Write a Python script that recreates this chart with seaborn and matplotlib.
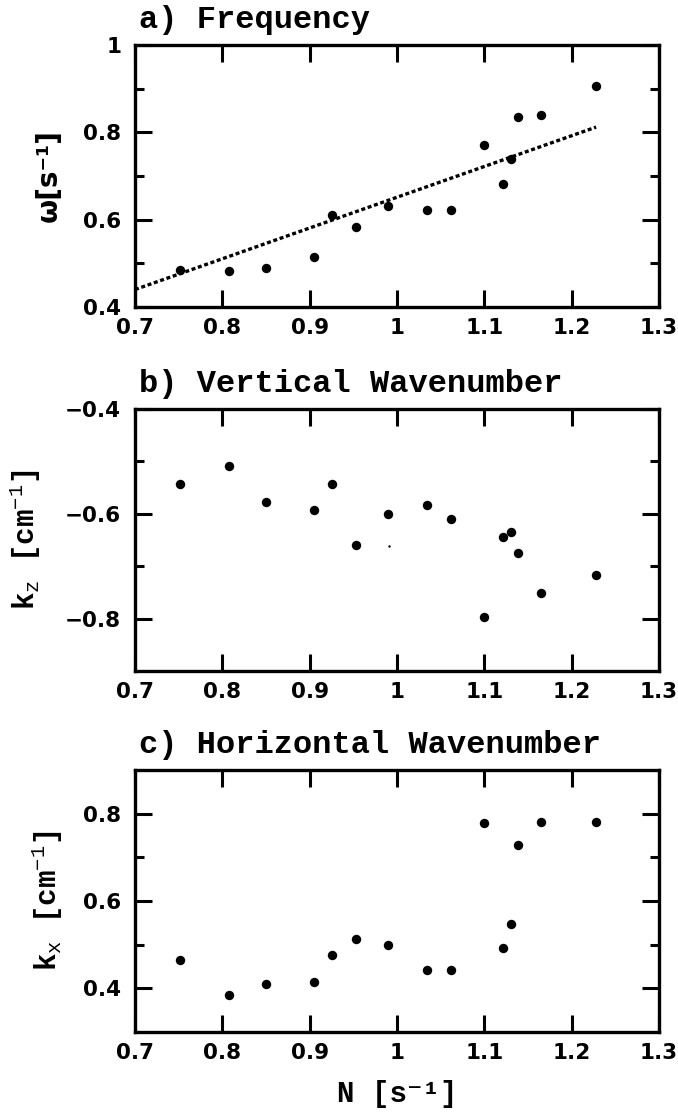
import matplotlib
matplotlib.use("Agg")
import matplotlib.pyplot as plt
import seaborn as sns
import pandas as pd
from matplotlib.ticker import FixedLocator

# Buoyancy frequency N [s^-1] shared by all three panels
n_freq = [0.751, 0.808, 0.850, 0.905, 0.926, 0.953, 0.990, 1.034, 1.062,
          1.100, 1.121, 1.130, 1.139, 1.165, 1.228]

# a) wave frequency omega [s^-1]
omega = [0.485, 0.482, 0.489, 0.515, 0.610, 0.584, 0.632, 0.623, 0.623,
         0.771, 0.681, 0.739, 0.835, 0.840, 0.905]
# fitted line through the frequency data
fit_n = [0.70, 1.228]
fit_omega = [0.440, 0.812]

# b) vertical wavenumber k_z [cm^-1]
k_z = [-0.543, -0.509, -0.577, -0.593, -0.543, -0.660, -0.600, -0.584, -0.609,
       -0.796, -0.644, -0.635, -0.675, -0.751, -0.717]
# stray speck in panel b
speck_n = [0.991]
speck_kz = [-0.661]

# c) horizontal wavenumber k_x [cm^-1]
k_x = [0.465, 0.384, 0.410, 0.415, 0.476, 0.513, 0.500, 0.442, 0.442,
       0.779, 0.492, 0.548, 0.728, 0.780, 0.780]

x_ticks = [0.7, 0.8, 0.9, 1.0, 1.1, 1.2, 1.3]
x_ticklabels = ["0.7", "0.8", "0.9", "1", "1.1", "1.2", "1.3"]

titles = ["a) Frequency", "b) Vertical Wavenumber", "c) Horizontal Wavenumber"]

sns.set_style("ticks")
plt.rcParams.update({
    "text.color": "black",
    "axes.labelcolor": "black",
    "xtick.color": "black",
    "ytick.color": "black",
    "axes.edgecolor": "black",
    "mathtext.fontset": "custom",
    "mathtext.rm": "Liberation Mono",
    "mathtext.it": "Liberation Mono",
    "mathtext.bf": "Liberation Mono:bold",
})

TITLE_FONT = dict(family=["Liberation Mono", "DejaVu Serif"], size=23, weight="bold")
LABEL_FONT = dict(family=["Liberation Mono", "DejaVu Serif"], size=21, weight="bold")
TICK_FONT = dict(family="DejaVu Sans", size=15.5, weight="bold")

fig = plt.figure(figsize=(6.78, 11.15), dpi=100)

W = 678.0
H = 1115.0
left, right = 135, 659
panels = [(45, 307), (409, 671), (770, 1032)]
axes = []
for top, bottom in panels:
    ax = fig.add_axes([left / W, 1 - bottom / H, (right - left) / W, (bottom - top) / H])
    axes.append(ax)

df = pd.DataFrame({"N": n_freq, "omega": omega, "kz": k_z, "kx": k_x})
fit_df = pd.DataFrame({"N": fit_n, "omega": fit_omega})
speck_df = pd.DataFrame({"N": speck_n, "kz": speck_kz})

point_kw = dict(color="black", s=46, edgecolor="black", linewidth=0, legend=False)

# a) frequency
sns.lineplot(data=fit_df, x="N", y="omega", ax=axes[0], color="black",
             linewidth=2.4, linestyle=(0, (1.2, 0.8)))
sns.scatterplot(data=df, x="N", y="omega", ax=axes[0], **point_kw)
axes[0].set_ylim(0.4, 1.0)
axes[0].yaxis.set_major_locator(FixedLocator([0.4, 0.6, 0.8, 1.0]))
axes[0].set_yticklabels(["0.4", "0.6", "0.8", "1"])
axes[0].yaxis.set_minor_locator(FixedLocator([0.5, 0.7, 0.9]))
axes[0].set_ylabel("ω[s⁻¹]", family="DejaVu Sans", size=20, weight="bold")

# b) vertical wavenumber
sns.scatterplot(data=df, x="N", y="kz", ax=axes[1], **point_kw)
sns.scatterplot(data=speck_df, x="N", y="kz", ax=axes[1], color="black", s=3,
                linewidth=0, legend=False)
axes[1].set_ylim(-0.9, -0.4)
axes[1].yaxis.set_major_locator(FixedLocator([-0.8, -0.6, -0.4]))
axes[1].set_yticklabels(["−0.8", "−0.6", "−0.4"])
axes[1].yaxis.set_minor_locator(FixedLocator([-0.7, -0.5]))
axes[1].set_ylabel(r"k$_\mathrm{z}$ [cm$^{-1}$]", **LABEL_FONT)

# c) horizontal wavenumber
sns.scatterplot(data=df, x="N", y="kx", ax=axes[2], **point_kw)
axes[2].set_ylim(0.3, 0.9)
axes[2].yaxis.set_major_locator(FixedLocator([0.4, 0.6, 0.8]))
axes[2].set_yticklabels(["0.4", "0.6", "0.8"])
axes[2].yaxis.set_minor_locator(FixedLocator([0.5, 0.7]))
axes[2].set_ylabel(r"k$_\mathrm{x}$ [cm$^{-1}$]", **LABEL_FONT)
axes[2].set_xlabel("N [s⁻¹]", labelpad=12, **LABEL_FONT)

ylabel_x = [-0.137, -0.176, -0.134]
for ax, title, lx in zip(axes, titles, ylabel_x):
    ax.set_xlim(0.7, 1.3)
    ax.set_xticks(x_ticks)
    ax.set_xticklabels(x_ticklabels)
    ax.set_title(title, loc="left", pad=12, x=0.008, color="black", **TITLE_FONT)
    for lab in ax.get_xticklabels() + ax.get_yticklabels():
        lab.set_fontfamily(TICK_FONT["family"])
        lab.set_fontsize(TICK_FONT["size"])
        lab.set_fontweight(TICK_FONT["weight"])
        lab.set_color("black")
    ax.tick_params(which="both", direction="in", top=True, right=True,
                   width=2.2, color="black", labelcolor="black")
    ax.tick_params(which="major", length=12)
    ax.tick_params(which="minor", length=6.5)
    ax.tick_params(axis="x", which="major", pad=8)
    ax.tick_params(axis="y", which="major", pad=10)
    for sp in ax.spines.values():
        sp.set_linewidth(2.4)
        sp.set_color("black")
        sp.set_visible(True)
    ax.yaxis.set_label_coords(lx, 0.5)
    ax.yaxis.label.set_color("black")
    if ax is not axes[2]:
        ax.set_xlabel("")
axes[2].xaxis.label.set_color("black")

fig.savefig("out.png", dpi=100)
